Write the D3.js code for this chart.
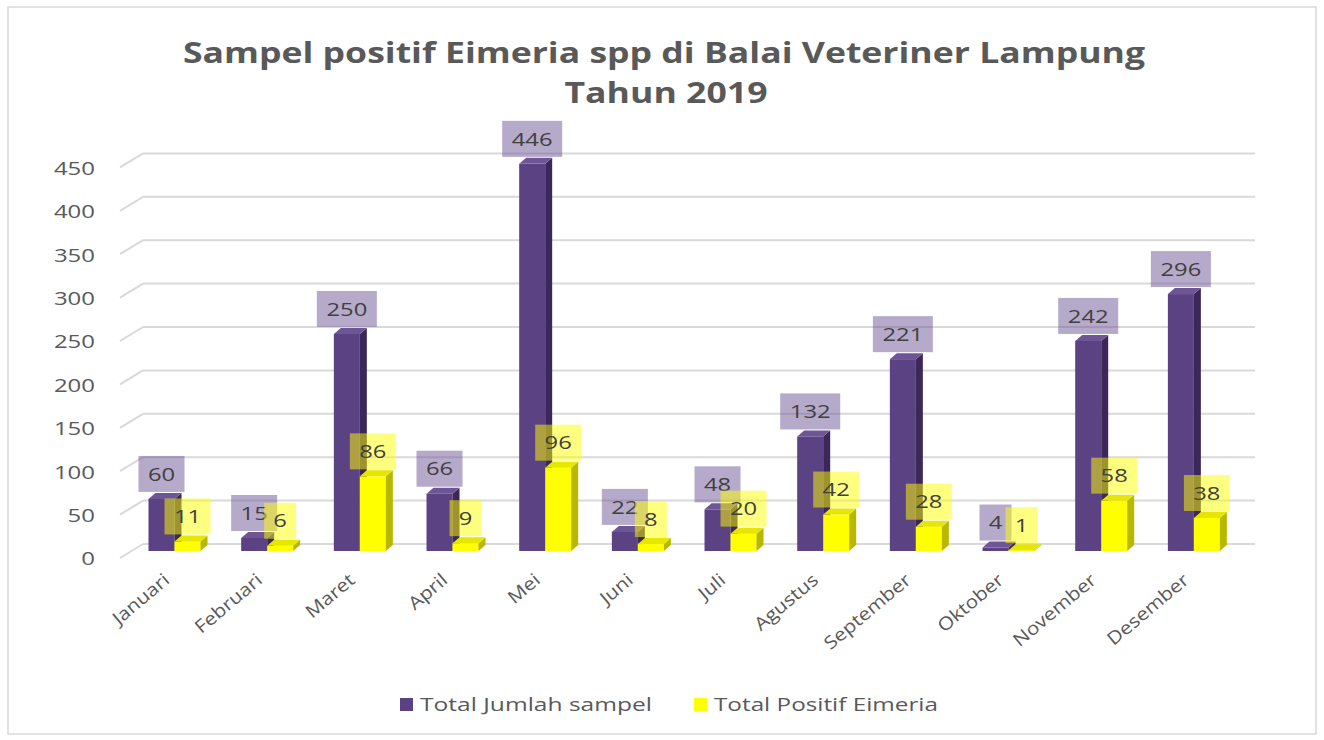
<!DOCTYPE html>
<html>
<head>
<meta charset="utf-8">
<script src="https://cdn.jsdelivr.net/npm/d3@7"></script>
<style>
  body { margin: 0; background: #fff; }
  text { font-family: "Open Sans", sans-serif; }
</style>
</head>
<body>
<div id="chart"></div>
<script>
const months = ["Januari", "Februari", "Maret", "April", "Mei", "Juni", "Juli", "Agustus", "September", "Oktober", "November", "Desember"];
const totalSampel = [60, 15, 250, 66, 446, 22, 48, 132, 221, 4, 242, 296];
const totalPositif = [11, 6, 86, 9, 96, 8, 20, 42, 28, 1, 58, 38];
const yTicks = [0, 50, 100, 150, 200, 250, 300, 350, 400, 450];
const seriesNames = ["Total Jumlah sampel", "Total Positif Eimeria"];

const W = 1324, H = 740;
const svg = d3.select("#chart").append("svg")
  .attr("width", W).attr("height", H);

// the source picture is stretched sideways, so widen text to match
function stretch(sel, f) {
  sel.each(function () {
    const len = this.getComputedTextLength();
    d3.select(this).attr("textLength", len * f).attr("lengthAdjust", "spacingAndGlyphs");
  });
}

// outer frame
svg.append("rect")
  .attr("x", 8).attr("y", 7).attr("width", 1308).attr("height", 727)
  .attr("fill", "#fff").attr("stroke", "#d9d9d9").attr("stroke-width", 1.5);

// title
const title = svg.append("text")
  .attr("text-anchor", "middle")
  .attr("fill", "#595959").attr("font-weight", 700).attr("font-size", 29);
title.append("tspan").attr("x", 664).attr("y", 63)
  .attr("textLength", 962).attr("lengthAdjust", "spacingAndGlyphs")
  .text("Sampel positif Eimeria spp di Balai Veteriner Lampung");
title.append("tspan").attr("x", 666).attr("y", 103)
  .attr("textLength", 203).attr("lengthAdjust", "spacingAndGlyphs")
  .text("Tahun 2019");

// scales (mid-depth plane)
const x = d3.scaleBand().domain(months).range([131.5, 131.5 + 12 * 92.67]);
const y = d3.scaleLinear().domain([0, 450]).range([551, 160.4]);
const wall = { dx: 11.5, dy: -7 };

// gridlines on back wall + diagonal side edges
const grid = svg.append("g");
yTicks.forEach(t => {
  grid.append("line")
    .attr("x1", x.range()[0] + wall.dx).attr("x2", x.range()[1] + wall.dx)
    .attr("y1", y(t) + wall.dy).attr("y2", y(t) + wall.dy)
    .attr("stroke", "#d9d9d9").attr("stroke-width", 2);
  grid.append("line")
    .attr("x1", x.range()[0] - wall.dx).attr("y1", y(t) - wall.dy)
    .attr("x2", x.range()[0] + wall.dx).attr("y2", y(t) + wall.dy)
    .attr("stroke", "#d9d9d9").attr("stroke-width", 2);
  grid.append("text")
    .attr("class", "ytick")
    .attr("x", 95).attr("y", y(t) - wall.dy + 1).attr("dy", "0.35em")
    .attr("text-anchor", "end").attr("font-size", 18).attr("fill", "#595959")
    .text(t);
});
stretch(grid.selectAll(".ytick"), 1.33);

// month labels
const mLabels = svg.append("g");
months.forEach(m => {
  const cx = x(m) + x.bandwidth() / 2 - 7;
  mLabels.append("text")
    .attr("transform", `translate(${cx},582) rotate(-40)`)
    .attr("text-anchor", "end")
    .attr("font-size", 18).attr("fill", "#595959")
    .text(m);
});
stretch(mLabels.selectAll("text"), 1.15);

// 3D bars
const depth = { dx: 7, dy: -6 };
const barW = 26;
const colors = [
  { front: "#5b4282", side: "#3b2859", top: "#6e5696" },
  { front: "#ffff00", side: "#b8b800", top: "#e6e600" }
];
const offsets = [17, 43];

function bar3d(g, x0, v, c) {
  const yT = y(v), yB = y(0);
  g.append("rect").attr("x", x0).attr("y", yT).attr("width", barW)
    .attr("height", yB - yT).attr("fill", c.front);
  g.append("path")
    .attr("d", `M${x0 + barW},${yT}L${x0 + barW + depth.dx},${yT + depth.dy}L${x0 + barW + depth.dx},${yB + depth.dy}L${x0 + barW},${yB}Z`)
    .attr("fill", c.side);
  g.append("path")
    .attr("d", `M${x0},${yT}L${x0 + depth.dx},${yT + depth.dy}L${x0 + barW + depth.dx},${yT + depth.dy}L${x0 + barW},${yT}Z`)
    .attr("fill", c.top);
}

const bars = svg.append("g");
months.forEach((m, i) => {
  bar3d(bars, x(m) + offsets[0], totalSampel[i], colors[0]);
  bar3d(bars, x(m) + offsets[1], totalPositif[i], colors[1]);
});

// data labels
const labelFills = ["rgba(110,85,150,0.5)", "rgba(255,255,0,0.5)"];
[totalSampel, totalPositif].forEach((vals, s) => {
  const lg = svg.append("g");
  months.forEach((m, i) => {
    const cx = x(m) + offsets[s] + barW / 2;
    const txt = String(vals[i]);
    const bw = txt.length * 14 + 18;
    const bh = 36;
    const bottom = y(vals[i]) + depth.dy - 1;
    lg.append("rect")
      .attr("x", cx - bw / 2).attr("y", bottom - bh)
      .attr("width", bw).attr("height", bh)
      .attr("fill", labelFills[s]);
    lg.append("text")
      .attr("class", "dl")
      .attr("x", cx).attr("y", bottom - bh / 2).attr("dy", "0.35em")
      .attr("text-anchor", "middle").attr("font-size", 19).attr("fill", "#404040")
      .text(txt);
  });
  stretch(lg.selectAll(".dl"), 1.25);
});

// legend
const legend = svg.append("g");
const legX = [400, 694];
const legLen = [232, 224];
seriesNames.forEach((n, s) => {
  legend.append("rect").attr("x", legX[s]).attr("y", 698)
    .attr("width", 13).attr("height", 13).attr("fill", colors[s].front);
  legend.append("text").attr("x", legX[s] + 20).attr("y", 705).attr("dy", "0.35em")
    .attr("font-size", 18).attr("fill", "#595959")
    .attr("textLength", legLen[s]).attr("lengthAdjust", "spacingAndGlyphs")
    .text(n);
});
</script>
</body>
</html>
